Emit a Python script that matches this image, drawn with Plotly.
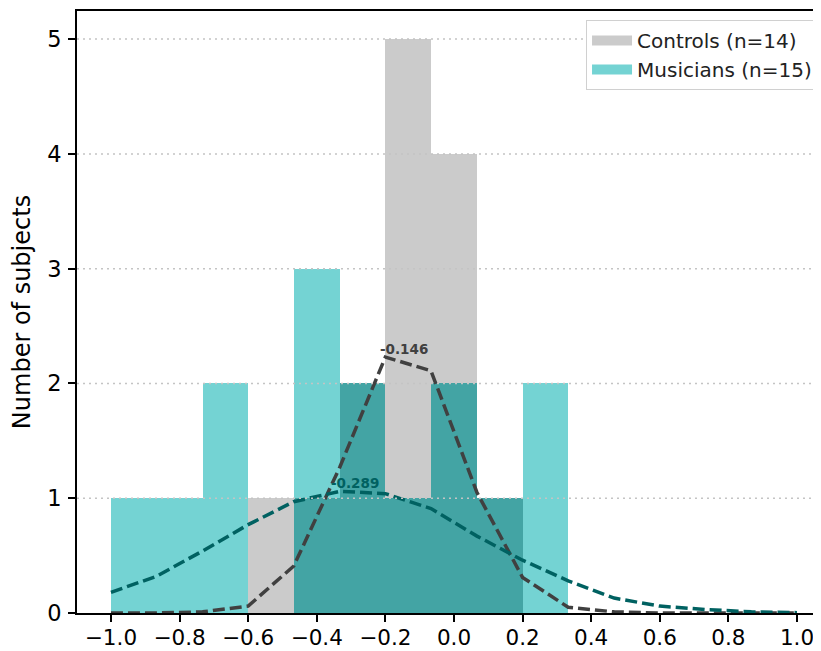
import plotly.graph_objects as go
import numpy as np

# ---- data ----
bin_edges = [-1.0, -0.867, -0.733, -0.6, -0.467, -0.333, -0.2, -0.067,
             0.067, 0.2, 0.333, 0.467, 0.6, 0.733, 0.867, 1.0]
controls_counts = [0, 0, 0, 1, 1, 2, 5, 4, 1, 0, 0, 0, 0, 0, 0]
musicians_counts = [1, 1, 2, 0, 3, 2, 1, 2, 1, 2, 0, 0, 0, 0, 0]
controls_kde = [0.0, 0.0, 0.01, 0.06, 0.41, 1.27, 2.23, 2.11, 1.05, 0.31,
                0.05, 0.01, 0.0, 0.0, 0.0, 0.0]
musicians_kde = [0.18, 0.32, 0.54, 0.77, 0.97, 1.06, 1.04, 0.91, 0.67, 0.46,
                 0.28, 0.13, 0.06, 0.03, 0.01, 0.003]
group_names = ["Controls (n=14)", "Musicians (n=15)"]
group_means = [-0.146, -0.289]
x_tick_vals = [-1.0, -0.8, -0.6, -0.4, -0.2, 0.0, 0.2, 0.4, 0.6, 0.8, 1.0]
x_tick_text = ["−1.0", "−0.8", "−0.6", "−0.4", "−0.2", "0.0", "0.2", "0.4", "0.6", "0.8", "1.0"]
y_tick_vals = [0, 1, 2, 3, 4, 5]
y_label = "Number of subjects"

# ---- styles ----
GRAY_BAR = "#cbcbcb"
TEAL_BAR = "#74d3d3"
OVERLAP_BAR = "#43a4a4"
GRAY_LINE = "#404040"
TEAL_LINE = "#006161"
FONT = "DejaVu Sans"

edges = np.array(bin_edges)
centers = (edges[:-1] + edges[1:]) / 2
widths = np.diff(edges)
overlap = np.minimum(controls_counts, musicians_counts)

fig = go.Figure()
fig.add_trace(go.Bar(x=centers, y=controls_counts, width=widths, name=group_names[0],
                     showlegend=False, marker=dict(color=GRAY_BAR, line=dict(width=0))))
fig.add_trace(go.Bar(x=centers, y=musicians_counts, width=widths, name=group_names[1],
                     showlegend=False, marker=dict(color=TEAL_BAR, line=dict(width=0))))
fig.add_trace(go.Bar(x=centers, y=overlap, width=widths, showlegend=False,
                     marker=dict(color=OVERLAP_BAR, line=dict(width=0))))
fig.add_trace(go.Scatter(x=bin_edges, y=controls_kde, mode="lines", showlegend=False,
                         line=dict(color=GRAY_LINE, width=3.5, dash="12px,5px")))
fig.add_trace(go.Scatter(x=bin_edges, y=musicians_kde, mode="lines", showlegend=False,
                         line=dict(color=TEAL_LINE, width=3.5, dash="12px,5px")))

# legend entries with wide rectangular swatches (like the reference)
for name, col in zip(group_names, [GRAY_BAR, TEAL_BAR]):
    fig.add_trace(go.Scatter(x=[None], y=[None], mode="lines", name=name,
                             line=dict(color=col, width=13)))

for mean, kde, col in zip(group_means, [controls_kde, musicians_kde], [GRAY_LINE, TEAL_LINE]):
    fig.add_annotation(x=mean, y=max(kde), text=f"<b>{mean:.3f}</b>", showarrow=False,
                       yanchor="bottom", xanchor="center", yshift=-2,
                       font=dict(family=FONT, size=13.5, color=col))

for yv in y_tick_vals[1:]:
    fig.add_shape(type="line", xref="paper", x0=0, x1=1, yref="y", y0=yv, y1=yv,
                  layer="above", line=dict(color="#c4c4c4", width=1.5, dash="2px,4px"))

# page body adds an 8px offset; figure size/margins compensate for it
fig.update_layout(
    width=813, height=643,
    margin=dict(l=69, r=0, t=3, b=38, autoexpand=False),
    barmode="overlay", bargap=0,
    plot_bgcolor="white", paper_bgcolor="white",
    font=dict(family=FONT, size=22, color="black"),
    showlegend=True,
    legend=dict(x=0.996, y=0.985, xanchor="right", yanchor="top",
                bgcolor="white", bordercolor="#d0d0d0", borderwidth=1,
                itemwidth=40, tracegroupgap=0,
                font=dict(family=FONT, size=20, color="#222")),
    xaxis=dict(range=[-1.099, 1.07], tickvals=x_tick_vals, ticktext=x_tick_text,
               showgrid=False, zeroline=False, showline=True, linecolor="black",
               linewidth=2, mirror=True, ticks="outside", ticklen=7, tickwidth=1.5,
               tickcolor="black", tickfont=dict(size=21.5), automargin=False,
               ticklabelstandoff=-3),
    yaxis=dict(range=[0, 5.245], tickvals=y_tick_vals, showgrid=False, zeroline=False,
               showline=True, linecolor="black", linewidth=2, ticks="outside",
               ticklen=7, tickwidth=1.5, tickcolor="black", tickfont=dict(size=22.5),
               automargin=False, ticklabelstandoff=2,
               title=dict(text=y_label, font=dict(size=24), standoff=12)),
)

fig.write_html("out.html")
